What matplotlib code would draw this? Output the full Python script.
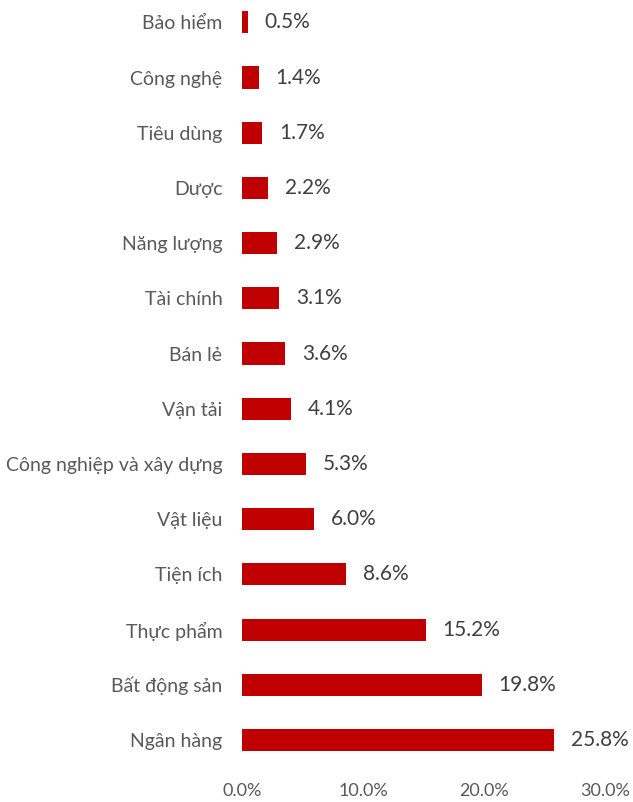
import matplotlib
matplotlib.use("Agg")
import matplotlib.pyplot as plt
from matplotlib.ticker import FuncFormatter

plt.rcParams["font.family"] = ["Lato", "Noto Sans", "DejaVu Sans"]

# Data (bottom to top)
sectors = [
    "Ngân hàng",
    "Bất động sản",
    "Thực phẩm",
    "Tiện ích",
    "Vật liệu",
    "Công nghiệp và xây dựng",
    "Vận tải",
    "Bán lẻ",
    "Tài chính",
    "Năng lượng",
    "Dược",
    "Tiêu dùng",
    "Công nghệ",
    "Bảo hiểm",
]
weights = [25.8, 19.8, 15.2, 8.6, 6.0, 5.3, 4.1, 3.6, 3.1, 2.9, 2.2, 1.7, 1.4, 0.5]
xticks = [0, 10, 20, 30]

bar_color = "#C00000"
label_color = "#595959"
value_color = "#404040"

fig = plt.figure(figsize=(6.33, 8.02), dpi=100)
ax = fig.add_axes([0.382, 0.0347, 0.574, 0.965])

y = list(range(len(sectors)))
ax.barh(y, weights, height=0.4, color=bar_color)

for yi, w in zip(y, weights):
    ax.annotate(f"{w:.1f}%", (w, yi), xytext=(12, 0), textcoords="offset points",
                va="center", ha="left", fontsize=15, color=value_color)

ax.set_yticks(y)
ax.set_yticklabels(sectors, fontsize=14, color=label_color)
ax.set_xticks(xticks)
ax.xaxis.set_major_formatter(FuncFormatter(lambda v, p: f"{v:.1f}%"))
ax.tick_params(axis="x", labelsize=13, labelcolor=label_color, length=0, pad=6)
ax.tick_params(axis="y", length=0, pad=14)

ax.set_xlim(0, 30)
ax.set_ylim(-0.62, 13.4)
for s in ax.spines.values():
    s.set_visible(False)

fig.savefig("out.png", dpi=100)
